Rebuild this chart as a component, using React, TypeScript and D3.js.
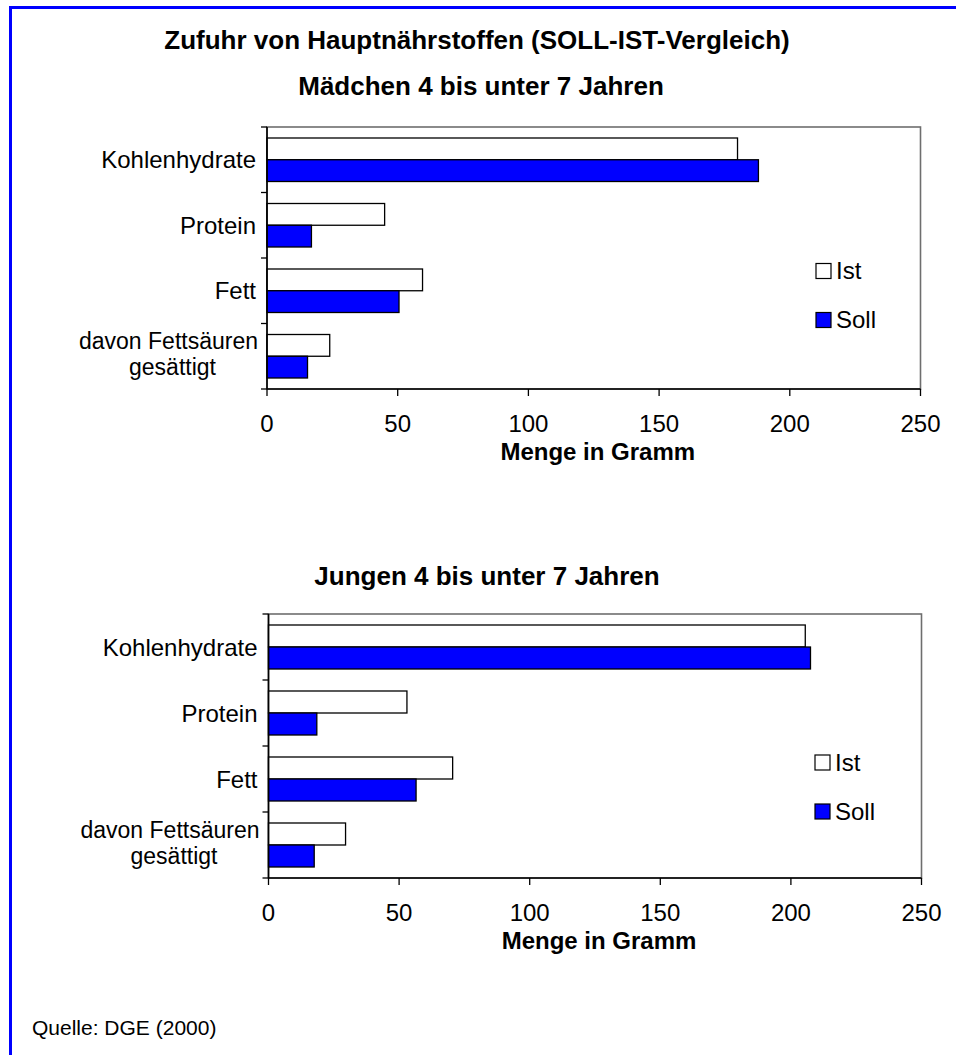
import React from "react";
import * as d3 from "d3";

const categories = ["Kohlenhydrate", "Protein", "Fett", "davon Fettsäuren\ngesättigt"];
const seriesNames = ["Ist", "Soll"];
const girlsIst = [180, 45, 59.5, 24];
const girlsSoll = [188, 17, 50.5, 15.5];
const boysIst = [205.5, 53, 70.5, 29.5];
const boysSoll = [207.5, 18.5, 56.5, 17.5];
const xTicks = [0, 50, 100, 150, 200, 250];

const mainTitle = "Zufuhr von Hauptnährstoffen (SOLL-IST-Vergleich)";
const girlsTitle = "Mädchen 4 bis unter 7 Jahren";
const boysTitle = "Jungen 4 bis unter 7 Jahren";
const axisTitle = "Menge in Gramm";
const sourceText = "Quelle: DGE (2000)";

const FONT = "'Liberation Sans', Arial, Helvetica, sans-serif";
const colors: Record<string, string> = { Ist: "#ffffff", Soll: "#0000ff" };

let measureCtx: CanvasRenderingContext2D | null = null;
function textWidth(t: string, size: number): number {
  if (typeof document === "undefined") return t.length * size * 0.5;
  if (!measureCtx) measureCtx = document.createElement("canvas").getContext("2d");
  if (!measureCtx) return t.length * size * 0.5;
  measureCtx.font = `${size}px ${FONT}`;
  return measureCtx.measureText(t).width;
}

type PanelProps = {
  ist: number[];
  soll: number[];
  left: number;
  right: number;
  top: number;
  bottom: number;
  legendX: number;
  legendY: number;
};

function Panel({ ist, soll, left, right, top, bottom, legendX, legendY }: PanelProps) {
  const x = d3.scaleLinear().domain([0, 250]).range([left, right]);
  const y = d3.scaleBand<string>().domain(categories).range([top, bottom]).paddingInner(0).paddingOuter(0);
  const bw = y.bandwidth();
  const inner = d3.scaleBand<string>().domain(seriesNames).range([11, bw - 11]).padding(0);
  const values: Record<string, number[]> = { Ist: ist, Soll: soll };
  const labelRight = left - 11;
  const boundaries = categories.map((c) => y(c) as number).concat([bottom]);

  return (
    <g>
      <rect x={left} y={top} width={right - left} height={bottom - top} fill="none" stroke="#6e6e6e" strokeWidth={1.6} />
      {categories.map((c, i) =>
        seriesNames.map((s) => (
          <rect
            key={c + s}
            x={x(0)}
            y={(y(c) as number) + (inner(s) as number)}
            width={x(values[s][i]) - x(0)}
            height={inner.bandwidth()}
            fill={colors[s]}
            stroke="#000"
            strokeWidth={1.3}
          />
        ))
      )}
      <line x1={left} x2={left} y1={top} y2={bottom} stroke="#000" strokeWidth={1.6} />
      {boundaries.map((b, i) => (
        <line key={"yt" + i} x1={left - 6} x2={left} y1={b} y2={b} stroke="#000" strokeWidth={1.3} />
      ))}
      <line x1={left} x2={right} y1={bottom} y2={bottom} stroke="#000" strokeWidth={1.6} />
      {xTicks.map((t) => (
        <g key={"xt" + t}>
          <line x1={x(t)} x2={x(t)} y1={bottom} y2={bottom + 7} stroke="#000" strokeWidth={1.3} />
          <text x={x(t)} y={bottom + 43} textAnchor="middle" fontSize={24} fontFamily={FONT} fill="#000">
            {t}
          </text>
        </g>
      ))}
      <text x={(left + right) / 2 + 4} y={bottom + 71} textAnchor="middle" fontSize={24} fontWeight="bold" fontFamily={FONT} fill="#000">
        {axisTitle}
      </text>
      {categories.map((c) => {
        const lines = c.split("\n");
        const cy = (y(c) as number) + bw / 2;
        if (lines.length === 1) {
          return (
            <text key={"cl" + c} x={labelRight} y={cy + 8.5} textAnchor="end" fontSize={24} fontFamily={FONT} fill="#000">
              {c}
            </text>
          );
        }
        const fs = 23;
        const maxW = Math.max(...lines.map((l) => textWidth(l, fs)));
        const cx = labelRight + 2 - maxW / 2;
        return (
          <g key={"cl" + c}>
            {lines.map((l, k) => (
              <text
                key={k}
                x={cx + (k > 0 ? 4 : 0)}
                y={cy - 7 + k * 26}
                textAnchor="middle"
                fontSize={fs}
                fontFamily={FONT}
                fill="#000"
              >
                {l}
              </text>
            ))}
          </g>
        );
      })}
      {seriesNames.map((s, k) => (
        <g key={"lg" + s} transform={`translate(${legendX},${legendY + k * 49})`}>
          <rect x={0} y={0} width={15} height={15} fill={colors[s]} stroke="#000" strokeWidth={1.2} />
          <text x={20} y={15.5} fontSize={24} fontFamily={FONT} fill="#000">
            {s}
          </text>
        </g>
      ))}
    </g>
  );
}

export default function App() {
  return (
    <svg
      width={956}
      height={1055}
      style={{ position: "absolute", left: 0, top: 0, display: "block", background: "#fff" }}
    >
      <rect x={0} y={0} width={956} height={1055} fill="#fff" />
      <line x1={10.5} x2={10.5} y1={6} y2={1055} stroke="#0000ff" strokeWidth={3} />
      <line x1={9} x2={956} y1={7.5} y2={7.5} stroke="#0000ff" strokeWidth={3} />

      <text x={477} y={49} textAnchor="middle" fontSize={26} fontWeight="bold" fontFamily={FONT} fill="#000">
        {mainTitle}
      </text>
      <text x={481} y={95} textAnchor="middle" fontSize={26} fontWeight="bold" fontFamily={FONT} fill="#000">
        {girlsTitle}
      </text>
      <Panel ist={girlsIst} soll={girlsSoll} left={267} right={920.5} top={127} bottom={389} legendX={816} legendY={263.5} />

      <text x={487} y={585} textAnchor="middle" fontSize={26} fontWeight="bold" fontFamily={FONT} fill="#000">
        {boysTitle}
      </text>
      <Panel ist={boysIst} soll={boysSoll} left={268.5} right={921.5} top={614} bottom={878} legendX={815} legendY={755} />

      <text x={32} y={1035} fontSize={21} fontFamily={FONT} fill="#000">
        {sourceText}
      </text>
    </svg>
  );
}
